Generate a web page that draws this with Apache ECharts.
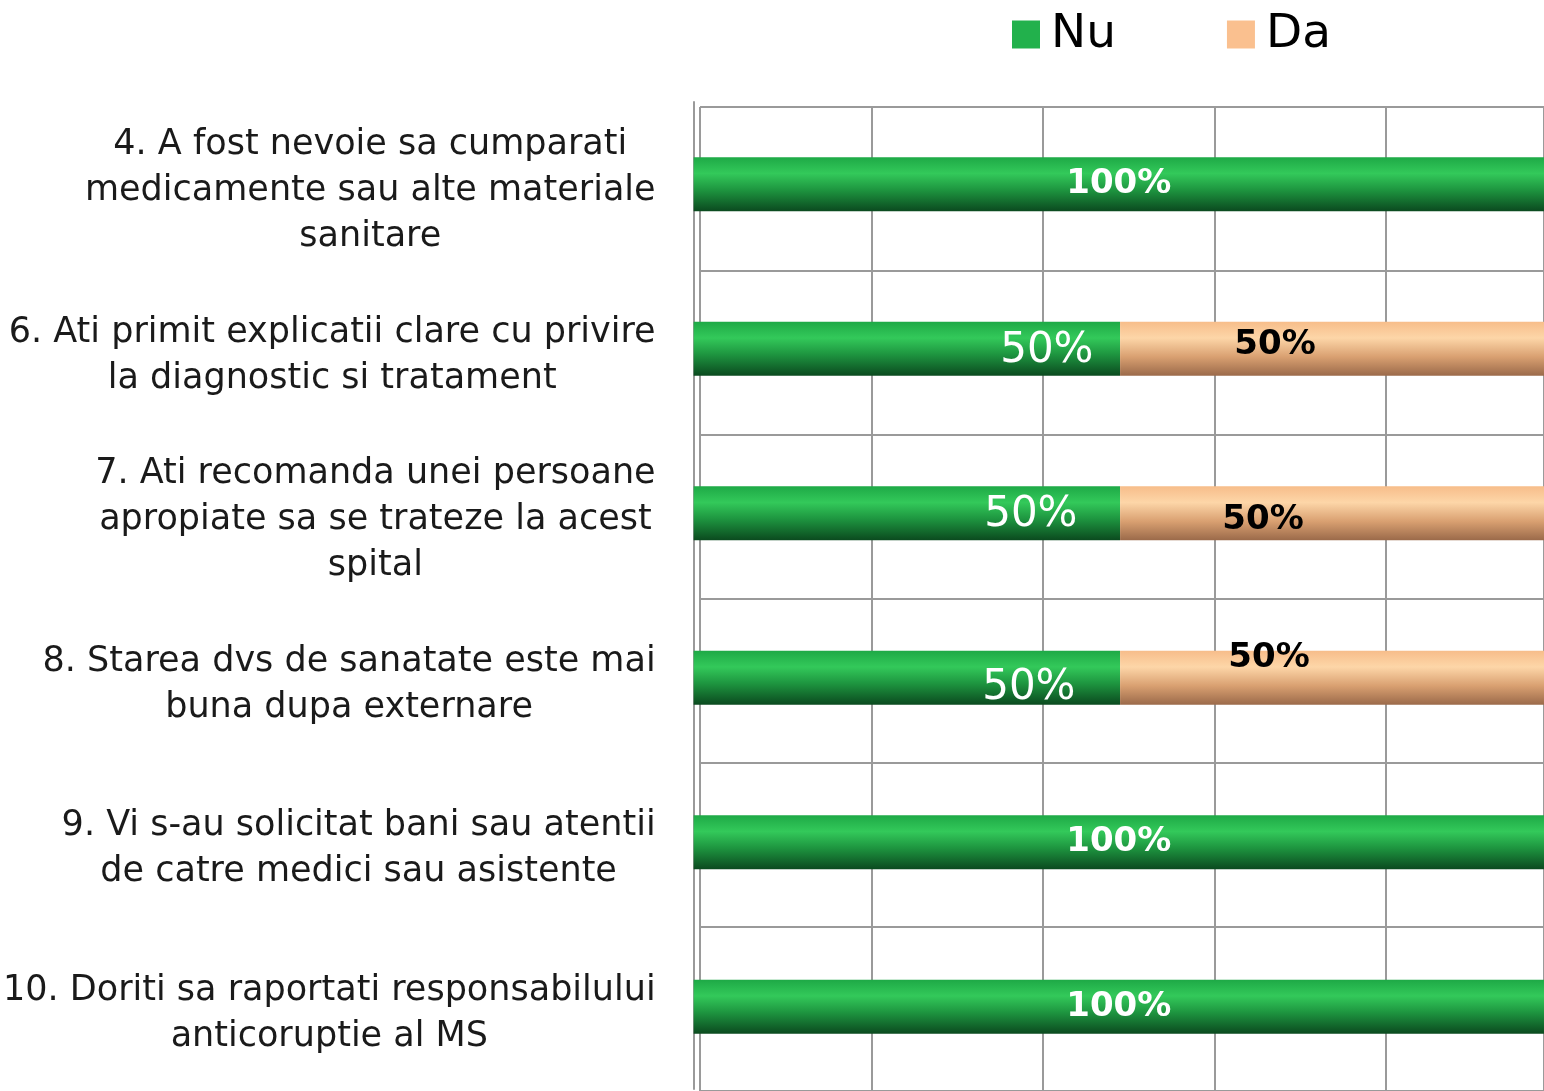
<!DOCTYPE html>
<html>
<head>
<meta charset="utf-8">
<script src="https://cdn.jsdelivr.net/npm/echarts@6/dist/echarts.min.js"></script>
<style>
  html, body { margin: 0; padding: 0; background: #fff; }
  #chart { width: 1544px; height: 1091px; }
</style>
</head>
<body>
<div id="chart"></div>
<script>
// intrebari (de sus in jos)
const categories = [
  '4. A fost nevoie sa cumparati\nmedicamente sau alte materiale\nsanitare',
  '6. Ati primit explicatii clare cu privire\nla diagnostic si tratament',
  '7. Ati recomanda unei persoane\napropiate sa se trateze la acest\nspital',
  '8. Starea dvs de sanatate este mai\nbuna dupa externare',
  '9. Vi s-au solicitat bani sau atentii\nde catre medici sau asistente',
  '10. Doriti sa raportati responsabilului\nanticoruptie al MS'
]
const nuValues = [100, 50, 50, 50, 100, 100]
const daValues = [0, 50, 50, 50, 0, 0]

const FONT = 'DejaVu Sans'

// deplasari etichete (ca in graficul 3D original)
const nuLabelShift = [[0, 0], [140, 2], [124, 2], [122, 10], [0, 0], [0, 0]]
const daLabelShift = [[0, 0], [-57, -4], [-69, 7], [-63, -20], [0, 0], [0, 0]]

const chart = echarts.init(document.getElementById('chart'))

const greenFill = new echarts.graphic.LinearGradient(0, 0, 0, 1, [
  { offset: 0, color: '#1ea946' },
  { offset: 0.3, color: '#33c95a' },
  { offset: 0.6, color: '#1e9640' },
  { offset: 1, color: '#0b4a1f' }
])
const peachFill = new echarts.graphic.LinearGradient(0, 0, 0, 1, [
  { offset: 0, color: '#f7bd8a' },
  { offset: 0.3, color: '#fdd6a8' },
  { offset: 0.65, color: '#d9a071' },
  { offset: 1, color: '#9b6a4a' }
])

const nuData = nuValues.map((v, i) => ({
  value: v,
  label: v === 100
    ? { fontWeight: 'bold', fontSize: 34, offset: nuLabelShift[i] }
    : { fontWeight: 'normal', fontSize: 42, offset: nuLabelShift[i] }
}))
const daData = daValues.map((v, i) => ({
  value: v,
  label: { offset: daLabelShift[i] }
}))

const option = {
  animation: false,
  legend: {
    left: 1007,
    top: 6,
    itemWidth: 28,
    itemHeight: 28,
    itemGap: 111,
    icon: 'rect',
    textStyle: { fontFamily: FONT, fontSize: 47, color: '#000', padding: [0, 0, 0, 6] },
    data: [
      { name: 'Nu', itemStyle: { color: '#22b14c' } },
      { name: 'Da', itemStyle: { color: '#fac08f' } }
    ]
  },
  grid: [
    { left: 693, top: 102, width: 851, height: 987 },
    { left: 700, top: 107, width: 844, height: 990 }
  ],
  xAxis: [
    {
      type: 'value', gridIndex: 0, min: 0, max: 99.7,
      axisLine: { show: false }, axisTick: { show: false },
      axisLabel: { show: false }, splitLine: { show: false }
    },
    {
      // grila din spate, putin deplasata (efect 3D)
      type: 'value', gridIndex: 1, min: 0, max: 98.4, interval: 20,
      axisLine: { show: false }, axisTick: { show: false },
      axisLabel: { show: false },
      splitLine: { show: true, lineStyle: { color: '#9a9a9a', width: 2 } }
    }
  ],
  yAxis: [
    {
      type: 'category', gridIndex: 0, inverse: true, data: categories,
      axisLine: { show: true, lineStyle: { color: '#9a9a9a', width: 2 } },
      axisTick: { show: false },
      axisLabel: {
        margin: 38,
        align: 'right',
        formatter: v => v.split('\n').map(s => '{c|' + s + '}').join('\n'),
        rich: {
          c: { align: 'center', fontFamily: FONT, fontSize: 35, lineHeight: 46, color: '#1a1a1a', padding: [14, 0, 0, 0] }
        }
      }
    },
    {
      type: 'category', gridIndex: 1, inverse: true, data: categories,
      axisLine: { show: false }, axisTick: { show: false },
      axisLabel: { show: false },
      splitLine: { show: true, lineStyle: { color: '#9a9a9a', width: 2 } }
    }
  ],
  series: [
    {
      name: 'Nu', type: 'bar', stack: 'total', xAxisIndex: 0, yAxisIndex: 0,
      barWidth: 54,
      itemStyle: { color: greenFill },
      label: {
        show: true, position: 'inside', color: '#fff', fontFamily: FONT,
        formatter: p => p.value + '%'
      },
      data: nuData
    },
    {
      name: 'Da', type: 'bar', stack: 'total', xAxisIndex: 0, yAxisIndex: 0,
      barWidth: 54,
      itemStyle: { color: peachFill },
      label: {
        show: true, position: 'inside', color: '#000', fontFamily: FONT,
        fontWeight: 'bold', fontSize: 34,
        formatter: p => (p.value > 0 ? p.value + '%' : '')
      },
      data: daData
    }
  ]
}

chart.setOption(option)
</script>
</body>
</html>
